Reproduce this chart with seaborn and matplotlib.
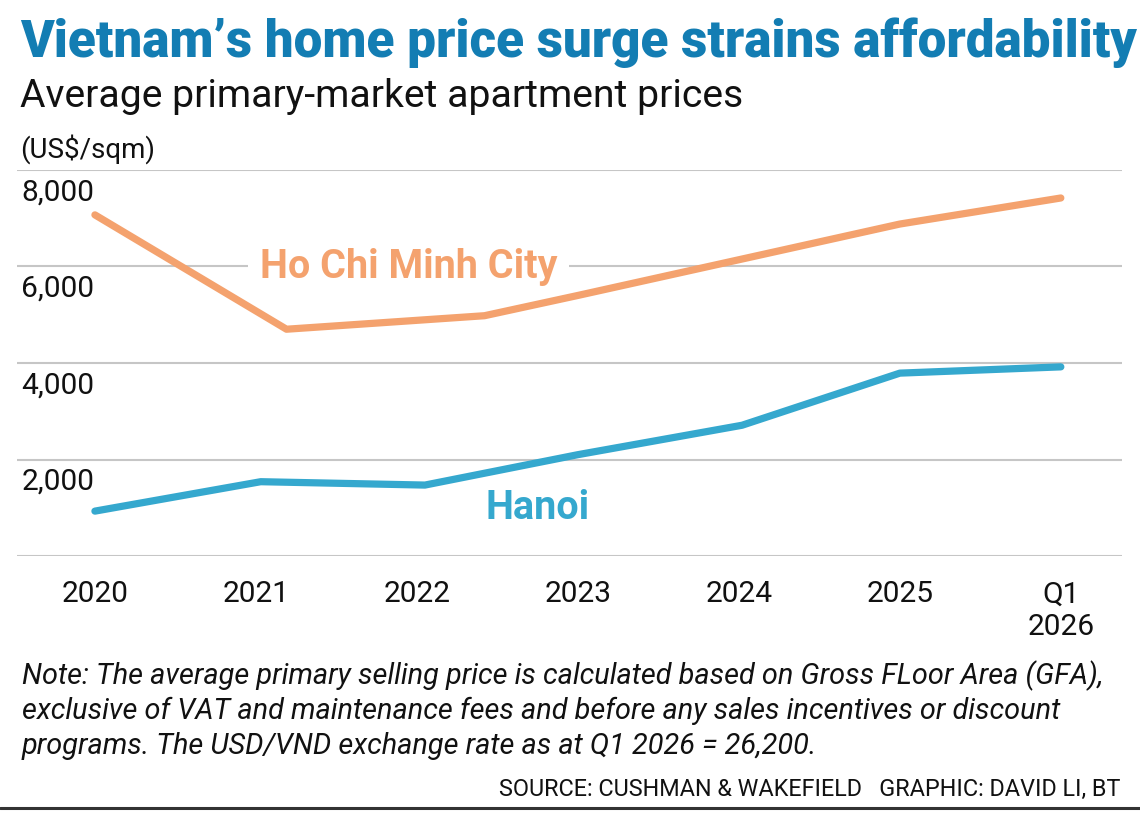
import matplotlib
matplotlib.use("Agg")
import matplotlib.pyplot as plt
import seaborn as sns
import pandas as pd

# ---- data ----
tick_labels = ["2020", "2021", "2022", "2023", "2024", "2025", "Q1\n2026"]
hcmc_x = [0, 1.19, 2.42, 3, 4, 5, 6]
hcmc_values = [7070, 4700, 4980, 5400, 6140, 6880, 7420]
hanoi_x = [0, 1.03, 2.05, 3, 4.02, 5, 6]
hanoi_values = [930, 1540, 1470, 2100, 2710, 3790, 3920]
y_ticks = [0, 2000, 4000, 6000, 8000]

ORANGE = "#F4A26E"
BLUE = "#35A8CE"
TITLE_BLUE = "#137DB3"
GRID = "#C6C6C6"

sns.set_theme(style="white")
plt.rcParams["font.family"] = ["Roboto", "DejaVu Sans"]

df = pd.concat([
    pd.DataFrame({"x": hcmc_x, "price": hcmc_values, "city": "Ho Chi Minh City"}),
    pd.DataFrame({"x": hanoi_x, "price": hanoi_values, "city": "Hanoi"}),
])

W, H = 1140, 813
fig = plt.figure(figsize=(W / 100, H / 100), dpi=100)
fig.patch.set_facecolor("white")

# axes placed in pixel geometry
left, right, top, bottom = 17, 1122, 170, 556
ax = fig.add_axes([left / W, 1 - bottom / H, (right - left) / W, (bottom - top) / H])

ax.set_ylim(0, 8000)
ax.set_xlim(-0.484, 6.38)
ax.set_yticks(y_ticks)
ax.yaxis.grid(True, color=GRID, linewidth=1.5)
ax.set_axisbelow(True)
for s in ax.spines.values():
    s.set_visible(False)
ax.tick_params(axis="y", length=0, labelleft=False)

sns.lineplot(data=df, x="x", y="price", hue="city",
             palette={"Ho Chi Minh City": ORANGE, "Hanoi": BLUE},
             linewidth=5.2, legend=False, ax=ax, sort=False,
             estimator=None)
for ln in ax.lines:
    ln.set_solid_capstyle("round")
    ln.set_solid_joinstyle("round")
    ln.set_zorder(3)

ax.set_xticks(range(len(tick_labels)))
ax.set_xticklabels(tick_labels, fontsize=21.5, color="#111111", linespacing=1.2)
ax.tick_params(axis="x", length=11.5, width=1.0, color=GRID, pad=6, direction="out")
ax.set_xlabel("")
ax.set_ylabel("")

# y tick labels inside the plot, below each gridline
for v in y_ticks[1:]:
    ax.annotate(f"{v:,}", xy=(0, v), xycoords=("axes fraction", "data"),
                xytext=(3, -6), textcoords="offset points",
                ha="left", va="top", fontsize=21.5, color="#111111")

# series labels (the white box only masks the gridline, sits under the lines)
ax.text(1.95, 6000, "Ho Chi Minh City", ha="center", va="center",
        fontsize=28.5, fontweight="bold", color=ORANGE, zorder=2,
        bbox=dict(boxstyle="square,pad=0.3", fc="white", ec="none"))
ax.text(2.75, 1000, "Hanoi", ha="center", va="center",
        fontsize=28.5, fontweight="bold", color=BLUE, zorder=2)

# titles
fig.text(20 / W, 1 - 57 / H, "Vietnam\u2019s home price surge strains affordability",
         ha="left", va="baseline", fontsize=36.8, fontweight="heavy", color=TITLE_BLUE)
fig.text(20 / W, 1 - 107 / H, "Average primary-market apartment prices",
         ha="left", va="baseline", fontsize=28.2, color="#111111")
fig.text(20 / W, 1 - 158 / H, "(US$/sqm)",
         ha="left", va="baseline", fontsize=20, color="#111111")

# note and source
note_lines = [
    "Note: The average primary selling price is calculated based on Gross FLoor Area (GFA),",
    "exclusive of VAT and maintenance fees and before any sales incentives or discount",
    "programs. The USD/VND exchange rate as at Q1 2026 = 26,200.",
]
for i, line in enumerate(note_lines):
    fig.text(22 / W, 1 - (684 + 35 * i) / H, line, ha="left", va="baseline",
             fontsize=20.8, style="italic", color="#111111")
fig.text(1120 / W, 1 - 796 / H, "SOURCE: CUSHMAN & WAKEFIELD   GRAPHIC: DAVID LI, BT",
         ha="right", va="baseline", fontsize=16.8, color="#111111")

# bottom rule
fig.add_artist(plt.Line2D([0, 1], [1 - 808 / H, 1 - 808 / H], color="#333333",
                          linewidth=2.2, transform=fig.transFigure))

fig.savefig("out.png", dpi=100, facecolor="white")
